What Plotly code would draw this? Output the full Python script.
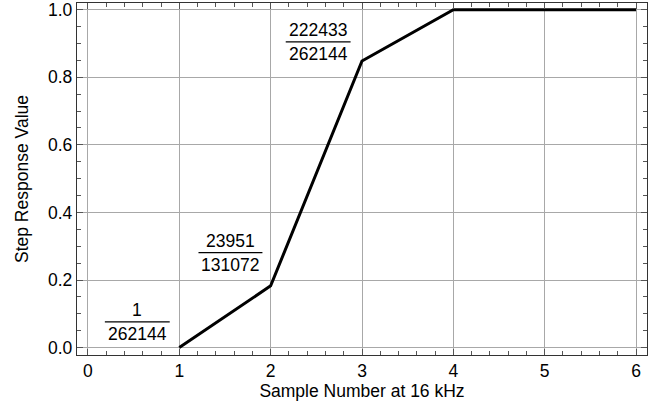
import plotly.graph_objects as go

# Data
sample_numbers = [1, 2, 3, 4, 5, 6]
numerators = [1, 23951, 222433, 1, 1, 1]
denominators = [262144, 131072, 262144, 1, 1, 1]
step_values = [n / d for n, d in zip(numerators, denominators)]

# fraction labels (point index, label centre x, fraction bar y, half bar width)
label_points = [0, 1, 2]
label_x = [0.54, 1.56, 2.52]
label_y = [0.076, 0.281, 0.905]
label_halfwidth = [0.355, 0.35, 0.355]

x_ticks = [0, 1, 2, 3, 4, 5, 6]
y_ticks = [0.0, 0.2, 0.4, 0.6, 0.8, 1.0]

FONT = "Liberation Sans, Arial, sans-serif"
FS = 17.5

fig = go.Figure()
fig.add_trace(go.Scatter(
    x=sample_numbers, y=step_values, mode="lines",
    line=dict(color="black", width=3), showlegend=False,
    hoverinfo="x+y",
))

annotations = []
shapes = []
for i, cx, ly, hw in zip(label_points, label_x, label_y, label_halfwidth):
    annotations.append(dict(x=cx, y=ly, xref="x", yref="y", text=str(numerators[i]),
                            showarrow=False, yanchor="bottom", yshift=0,
                            font=dict(family=FONT, size=FS, color="black")))
    annotations.append(dict(x=cx, y=ly, xref="x", yref="y", text=str(denominators[i]),
                            showarrow=False, yanchor="top", yshift=0,
                            font=dict(family=FONT, size=FS, color="black")))
    shapes.append(dict(type="line", xref="x", yref="y", x0=cx - hw, x1=cx + hw,
                       y0=ly, y1=ly, line=dict(color="black", width=1.2)))

axis_common = dict(
    showline=True, linecolor="#333333", linewidth=1.3, mirror="ticks",
    ticks="inside", ticklen=6, tickwidth=1, tickcolor="#555555",
    showgrid=True, gridcolor="#a8a8a8", gridwidth=1,
    zeroline=False, automargin=False, ticklabeloverflow="allow",
    tickfont=dict(family=FONT, size=FS, color="black"),
)

fig.update_layout(
    width=665, height=409,
    margin=dict(l=77, r=18, t=3, b=54),
    paper_bgcolor="white", plot_bgcolor="white",
    font=dict(family=FONT, size=FS, color="black"),
    xaxis=dict(range=[-0.12, 6.12], tickvals=x_ticks,
               ticktext=[str(v) for v in x_ticks],
               title=dict(text="Sample Number at 16 kHz", standoff=4,
                          font=dict(family=FONT, size=FS)),
               minor=dict(ticks="inside", dtick=0.2, ticklen=4, tickcolor="#555555", showgrid=False),
               **axis_common),
    yaxis=dict(range=[-0.022, 1.02], tickvals=y_ticks,
               ticktext=[f"{v:.1f}" for v in y_ticks],
               title=dict(text="Step Response Value", standoff=14,
                          font=dict(family=FONT, size=FS)),
               minor=dict(ticks="inside", dtick=0.05, ticklen=4, tickcolor="#555555", showgrid=False),
               **axis_common),
    annotations=annotations,
    shapes=shapes,
)

fig.write_html("out.html", config={"displayModeBar": False},
               post_script="document.body.style.margin='0';document.body.style.padding='0';")
